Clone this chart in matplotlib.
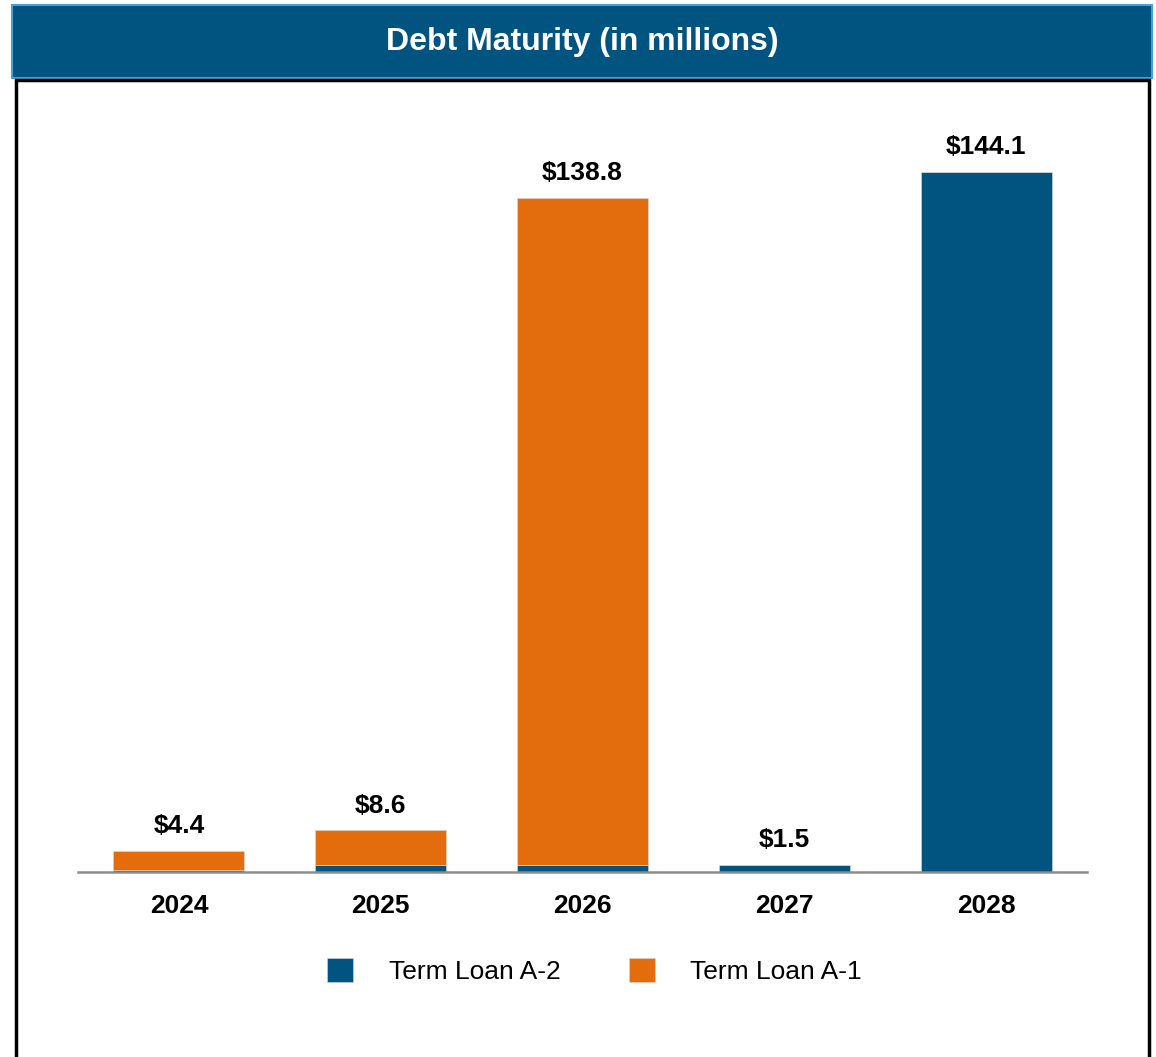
import matplotlib
matplotlib.use("Agg")
import matplotlib.pyplot as plt
from matplotlib.patches import Rectangle, Patch
import numpy as np

plt.rcParams['font.family'] = ['Liberation Sans', 'DejaVu Sans']

years = ["2024", "2025", "2026", "2027", "2028"]
term_loan_a2 = [0.4, 1.5, 1.5, 1.5, 144.1]
term_loan_a1 = [4.0, 7.1, 137.3, 0.0, 0.0]
totals = ["$4.4", "$8.6", "$138.8", "$1.5", "$144.1"]

BLUE = "#00547F"
ORANGE = "#E36C0C"

W, H = 1156, 1057
fig = plt.figure(figsize=(W / 100, H / 100), dpi=100)

def fx(px):
    return px / W

def fy(py):
    return 1 - py / H

# Title bar
fig.patches.append(Rectangle((fx(12), fy(78)), fx(1152) - fx(12), fy(5) - fy(78),
                             transform=fig.transFigure, facecolor=BLUE,
                             edgecolor="#4a9fd6", linewidth=1.5, zorder=0))
fig.text(fx(582), fy(42), "Debt Maturity (in millions)", color="white",
         fontsize=23, fontweight="bold", ha="center", va="center")
# Black frame
fig.patches.append(Rectangle((fx(15.5), fy(1070)), fx(1149) - fx(15.5), fy(80) - fy(1070),
                             transform=fig.transFigure, facecolor="none",
                             edgecolor="black", linewidth=2.5, zorder=0))

ymax = 160.0
base_px = 872
px_per_unit = 700 / 144.1
top_px = base_px - ymax * px_per_unit
ax = fig.add_axes([fx(78), fy(base_px), fx(1087) - fx(78), fy(top_px) - fy(base_px)])

x = np.arange(len(years))
bw = 0.65
ax.bar(x, term_loan_a2, width=bw, color=BLUE, edgecolor="#d9d9d9", linewidth=0.4, zorder=2)
ax.bar(x, term_loan_a1, width=bw, bottom=term_loan_a2, color=ORANGE,
       edgecolor="#d9d9d9", linewidth=0.4, zorder=2)

for i in range(len(years)):
    tot = term_loan_a2[i] + term_loan_a1[i]
    ax.annotate(totals[i], (x[i], tot), xytext=(0, 9), textcoords="offset points",
                ha="center", va="bottom", fontsize=19, fontweight="bold", color="black")

ax.set_xlim(-0.5, len(years) - 0.5)
ax.set_ylim(0, ymax)
ax.set_xticks(x)
ax.set_xticklabels(years, fontsize=19, fontweight="bold")
ax.tick_params(axis="x", length=0, pad=16)
ax.set_yticks([])
for s in ["top", "left", "right"]:
    ax.spines[s].set_visible(False)
ax.spines["bottom"].set_color("#8c8c8c")
ax.spines["bottom"].set_linewidth(1.8)
ax.spines["bottom"].set_zorder(3)
ax.patch.set_alpha(0)

handles = [Patch(facecolor=BLUE, edgecolor="#d9d9d9", linewidth=0.4, label="Term Loan A-2"),
           Patch(facecolor=ORANGE, edgecolor="#d9d9d9", linewidth=0.4, label="Term Loan A-1")]
fig.legend(handles=handles, loc="center", bbox_to_anchor=(fx(594.5), fy(971)),
           ncol=2, frameon=False, fontsize=19, handlelength=1.0, handleheight=1.0,
           handletextpad=1.33, columnspacing=2.6, borderpad=0)

fig.savefig("out.png", dpi=100)
